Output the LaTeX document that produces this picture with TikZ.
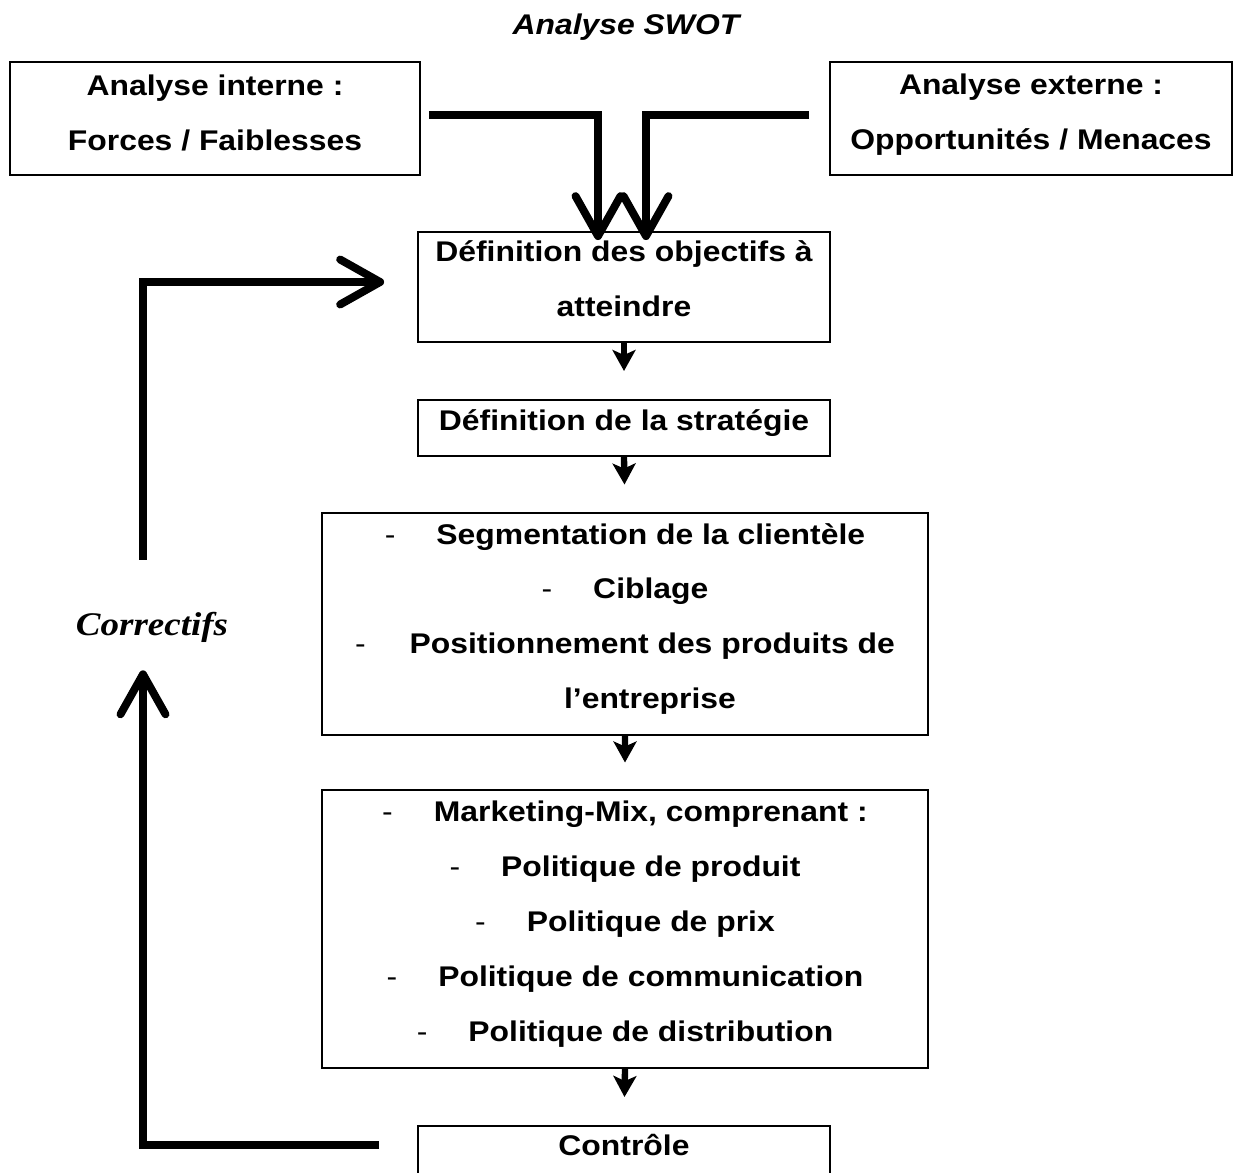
\documentclass[tikz,border=0pt]{standalone}
\usepackage{fontspec}
\setmainfont{Liberation Sans}[FakeStretch=1.12]
\newfontfamily\correctfont{Liberation Serif}[FakeStretch=1.12]
\usepackage{tikz}
\usetikzlibrary{arrows.meta,positioning,calc}

\newcommand{\puce}[1][0.82cm]{{\mdseries -}\hspace{#1}}

\begin{document}
\begin{tikzpicture}[
            x=0.02cm, y=-0.02cm,
            every node/.style={font=\fontsize{16.2}{31.3}\selectfont\bfseries},
            boite/.style={draw, line width=1.1pt, inner sep=0pt},
            texte/.style={align=center, inner sep=0pt, yshift=0.1cm},
            gros/.style={-{Straight Barb[length=0.8cm, width=0.9cm, round]}, line width=4.5pt},
            petite/.style={-{Stealth[length=0.42cm, width=0.46cm, inset=0.1cm]}, line width=3.6pt}
        ]
        \useasboundingbox (0,0) rectangle (1241,1173);

        % ================= analyse SWOT =================
        \node[font=\fontsize{16.2}{20}\selectfont\bfseries\itshape] (titre) at (626,27) {Analyse SWOT};
        \node[boite, minimum width=8.2cm, minimum height=2.26cm,
            label={[texte, yshift=0.02cm]center:{Analyse interne :\\Forces / Faiblesses}}] (int) at (215,118.5) {};
        \node[boite, minimum width=8.04cm, minimum height=2.26cm,
            label={[texte, yshift=-0.02cm]center:{Analyse externe :\\Opportunités / Menaces}}] (ext) at (1031,118.5) {};

        % ================= chaine principale =================
        \node[boite, minimum width=8.24cm, minimum height=2.2cm,
            label={[texte, yshift=0.06cm]center:{Définition des objectifs à\\atteindre}}] (obj) at (624,287) {};
        \node[boite, minimum width=8.24cm, minimum height=1.12cm,
            label={[texte]center:{Définition de la stratégie}}] (strat) at (624,428) {};
        \node[boite, minimum width=12.12cm, minimum height=4.44cm,
            label={[texte]center:{\puce Segmentation de la clientèle\\
            \puce Ciblage\\
            \puce[0.7cm] Positionnement des produits de\\
            \hspace*{1cm}l’entreprise}}] (seg) at (625,624) {};
        \node[boite, minimum width=12.12cm, minimum height=5.56cm,
            label={[texte]center:{\puce Marketing-Mix, comprenant :\\
            \puce Politique de produit\\
            \puce Politique de prix\\
            \puce Politique de communication\\
            \puce Politique de distribution}}] (mix) at (625,929) {};
        \node[boite, minimum width=8.24cm, minimum height=1.6cm,
            label={[texte, yshift=0.32cm]center:{Contrôle}}] (ctrl) at (624,1166) {};

        \draw[gros] ([xshift=0.16cm, yshift=0.07cm]int.east) -| ([xshift=-0.52cm, yshift=-0.18cm]obj.north);
        \draw[gros] ([xshift=-0.4cm, yshift=0.07cm]ext.west) -| ([xshift=0.44cm, yshift=-0.18cm]obj.north);

        \draw[petite] (obj.south) -- ($(obj.south)!0.5!(strat.north)$);
        \draw[petite] (strat.south) -- ($(strat.south)!0.5!(seg.north)$);
        \draw[petite] (seg.south) -- ($(seg.south)!0.5!(mix.north)$);
        \draw[petite] (mix.south) -- ($(mix.south)!0.5!(ctrl.north)$);

        % ================= boucle de correction =================
        \node[font=\correctfont\fontsize{18.8}{22}\selectfont\bfseries\itshape,
            minimum height=2.2cm, inner sep=0pt] (corr) at (152,627) {Correctifs};
        \draw[gros] ([xshift=-0.76cm, yshift=0.42cm]ctrl.west) -| ([xshift=-0.18cm, yshift=0.24cm]corr.south);
        \draw[gros] ([xshift=-0.18cm, yshift=0.24cm]corr.north) |- ([xshift=-0.66cm, yshift=0.1cm]obj.west);

    \end{tikzpicture}
\end{document}
